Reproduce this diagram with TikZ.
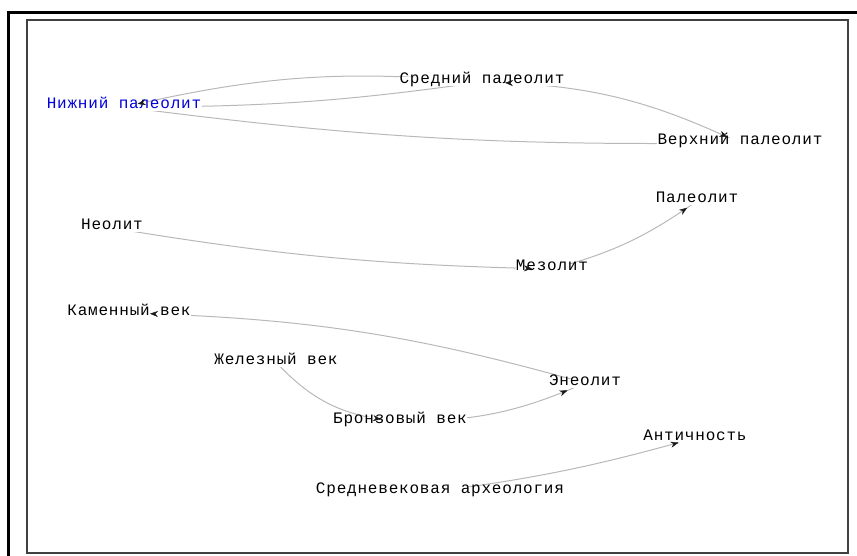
\documentclass[tikz,border=0pt]{standalone}
\usepackage{fontspec}
\setmonofont[LetterSpace=5]{Liberation Mono}
\usepackage{tikz}
\usetikzlibrary{arrows.meta,backgrounds,decorations.markings}
\newcommand{\linkcolor}{black!28}
\newcommand{\tipcolor}{black!90}
\newcommand{\namecolor}{blue!85!black}
\pgfdeclarelayer{tips}
\pgfsetlayers{background,main,tips}
\tikzset{
  term/.style={fill=white, inner sep=0.5pt, text height=6pt, text depth=2pt,
    font=\ttfamily\fontsize{16}{18}\selectfont},
  link/.style={draw=\linkcolor, line width=1pt},
  tip/.style={postaction={decorate}, decoration={markings,
    mark=at position -#1 with {\arrow[\tipcolor]{Stealth[length=8pt,width=6pt]}}}},
  backtip/.style={postaction={decorate}, decoration={markings,
    mark=at position #1 with {\arrowreversed[\tipcolor]{Stealth[length=8pt,width=6pt]}}}}
}

\begin{document}
\begin{tikzpicture}[x=1pt, y=-1pt]
\useasboundingbox (0,0) rectangle (857,556);
%frame
\draw[line width=3pt] (8,556) -- (8,13) -- (857,13);
\draw[black!75, line width=1.2pt] (27,20) rectangle (848,553);
%nodes
\node[term, text=\namecolor] (1) at (124, 107) {Нижний палеолит};
\node[term] (2) at (482, 82) {Средний палеолит};
\node[term] (3) at (740, 143) {Верхний палеолит};
\node[term] (4) at (697, 201) {Палеолит};
\node[term] (5) at (112, 228) {Неолит};
\node[term] (6) at (552, 269) {Мезолит};
\node[term] (7) at (129, 313) {Каменный век};
\node[term] (8) at (276, 362) {Железный век};
\node[term] (9) at (400, 421) {Бронзовый век};
\node[term] (10) at (585, 383) {Энеолит};
\node[term] (11) at (695, 438) {Античность};
\node[term] (12) at (440, 491) {Средневековая археология};
%links
\begin{scope}[on background layer]
\draw[link] (2.center) to[bend right=9] (1.center);
\draw[link] (1.center) to[bend right=4] (2.center);
\draw[link] (1.center) to[bend right=4] (3.center);
\draw[link] (2.center) to[bend left=12] (3.center);
\draw[link] (5.center) to[bend right=4] (6.center);
\draw[link] (6.center) to[bend right=10] (4.center);
\draw[link] (10.center) to[bend right=7] (7.center);
\draw[link] (8.center) to[bend right=22] (9.center);
\draw[link] (9.center) to[bend right=12] (10.center);
\draw[link] (12.center) to[bend right=4] (11.center);
\end{scope}
%tips
\begin{pgfonlayer}{tips}
\path[tip=14pt] (2.center) to[bend right=9] (1.center);
\path[tip=14pt] (2.center) to[bend left=12] (3.center);
\path[backtip=23pt] (2.center) to[bend left=12] (3.center);
\path[tip=20pt] (5.center) to[bend right=4] (6.center);
\path[tip=12pt] (6.center) to[bend right=10] (4.center);
\path[tip=21pt] (10.center) to[bend right=7] (7.center);
\path[tip=19pt] (8.center) to[bend right=22] (9.center);
\path[tip=19pt] (9.center) to[bend right=12] (10.center);
\path[tip=17pt] (12.center) to[bend right=4] (11.center);
\end{pgfonlayer}
\end{tikzpicture}
\end{document}
